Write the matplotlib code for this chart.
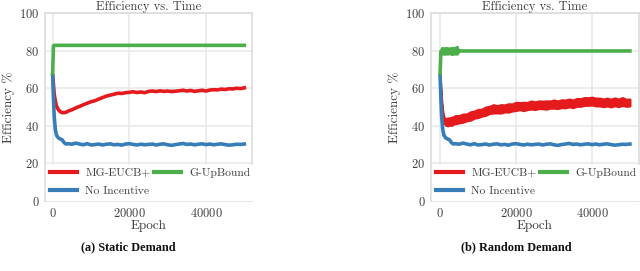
import matplotlib
matplotlib.use("Agg")
import matplotlib.pyplot as plt
from matplotlib.lines import Line2D

# ---------------- data ----------------
epochs = [0, 200, 400, 700, 1000, 1500, 2000, 2500, 3000, 3500, 4000,
          5000, 6000, 7000, 8000, 9000, 10000, 11000, 12000, 13000, 14000,
          15000, 16000, 17000, 18000, 19000, 20000, 21000, 22000, 23000, 24000,
          25000, 26000, 27000, 28000, 29000, 30000, 31000, 32000, 33000, 34000,
          35000, 36000, 37000, 38000, 39000, 40000, 41000, 42000, 43000, 44000,
          45000, 46000, 47000, 48000, 49000, 50000]

static_mg_eucb = [67, 62, 57, 53, 50.5, 48.5, 47.5, 47, 47, 47.2, 47.8,
                  48.5, 49.5, 50.3, 51.2, 52, 52.8, 53.3, 54.2, 55, 55.8,
                  56.3, 56.8, 57.3, 57.2, 57.6, 57.8, 58.1, 57.7, 58, 57.6,
                  58.3, 58.5, 58.2, 58.6, 58.3, 58.5, 58.2, 58.4, 58.6, 58.9,
                  58.5, 58.8, 58.3, 58.6, 58.9, 58.5, 59, 59.2, 59.1, 59.5,
                  59.3, 59.7, 59.6, 60, 59.8, 60.2]

static_upbound = [68, 82.5, 82.8, 82.8, 82.8, 82.8, 82.8, 82.8, 82.8, 82.8, 82.8,
                  82.8, 82.8, 82.8, 82.8, 82.8, 82.8, 82.8, 82.8, 82.8, 82.8,
                  82.8, 82.8, 82.8, 82.8, 82.8, 82.8, 82.8, 82.8, 82.8, 82.8,
                  82.8, 82.8, 82.8, 82.8, 82.8, 82.8, 82.8, 82.8, 82.8, 82.8,
                  82.8, 82.8, 82.8, 82.8, 82.8, 82.8, 82.8, 82.8, 82.8, 82.8,
                  82.8, 82.8, 82.8, 82.8, 82.8, 82.8]

no_incentive = [67, 55, 45, 38, 35, 33.5, 33, 32.5, 31, 30.3, 30.5,
                30.2, 30.8, 30.3, 29.9, 30.5, 29.8, 30, 30.3, 29.8, 30.2,
                30.4, 29.9, 30.1, 29.7, 30.3, 30.5, 30.1, 29.8, 30.2, 29.9,
                30.1, 30.3, 29.8, 30.2, 30.4, 29.9, 29.6, 30, 30.3, 30.6,
                30.1, 30.3, 29.9, 30.2, 30.4, 30, 30.3, 29.9, 30.2, 30.4,
                30, 29.7, 29.9, 30.2, 30.1, 30.3]

# random demand: noisy bands given as lower / upper envelopes
random_mg_low = [64, 56.5, 50.5, 44.5, 41.5, 40.3, 40, 40.4, 40.2, 40.9, 41.1,
                 41.6, 41.9, 42.7, 43, 44.1, 44.4, 45.2, 45.6, 46.6, 46.8,
                 46.9, 46.8, 47.4, 47.3, 47.9, 48.2, 48.6, 48.1, 48.7, 48.9,
                 48.7, 49.2, 49.1, 48.9, 49.4, 49.4, 49.2, 49.7, 49.6, 50.1,
                 49.7, 50.4, 50.4, 50.9, 50.9, 51.1, 50.6, 50.6, 50.2, 50.6,
                 50.1, 50.7, 50.2, 50.9, 50.4, 50.6]
random_mg_high = [66, 59.5, 53.5, 47.5, 44.6, 43.6, 44.2, 44.1, 44.6, 44.7, 45.4,
                  45.4, 46.2, 46.3, 47.4, 47.8, 48.7, 48.8, 50, 50.3, 51.2,
                  50.7, 51.2, 51.1, 51.7, 51.6, 52.5, 52.3, 52.5, 52.4, 53.2,
                  52.7, 53.2, 53.1, 53.2, 53.2, 53.7, 53.2, 53.8, 53.7, 54.2,
                  53.7, 54.5, 54.4, 55, 54.9, 55.2, 54.7, 54.7, 54.2, 54.7,
                  54.1, 54.8, 54.2, 55, 54.1, 54.2]

random_upbound = [68, 79.5, 79.8, 79.8, 79.8, 79.8, 79.8, 79.8, 79.8, 79.8, 79.8,
                  79.8, 79.8, 79.8, 79.8, 79.8, 79.8, 79.8, 79.8, 79.8, 79.8,
                  79.8, 79.8, 79.8, 79.8, 79.8, 79.8, 79.8, 79.8, 79.8, 79.8,
                  79.8, 79.8, 79.8, 79.8, 79.8, 79.8, 79.8, 79.8, 79.8, 79.8,
                  79.8, 79.8, 79.8, 79.8, 79.8, 79.8, 79.8, 79.8, 79.8, 79.8,
                  79.8, 79.8, 79.8, 79.8, 79.8, 79.8]
upbound_band_epochs = [150, 300, 600, 1000, 1500, 2000, 2500, 3000, 3500, 4000, 4500, 5000]
random_upbound_low = [77.5, 78, 78.2, 77.9, 78.1, 78, 78.3, 77.8, 78, 78.1, 78, 79.5]
random_upbound_high = [80.5, 81.6, 81.8, 81.5, 81.8, 81.6, 81.5, 81.8, 81.7, 82, 82.4, 80]

series_labels = ["MG-EUCB+", "No Incentive", "G-UpBound"]
panel_captions = ["(a) Static Demand", "(b) Random Demand"]
yticks = [0, 20, 40, 60, 80, 100]
xticks = [0, 20000, 40000]

# ---------------- style ----------------
plt.rcParams["font.family"] = ["cmr10", "DejaVu Serif"]
plt.rcParams["axes.formatter.use_mathtext"] = True
plt.rcParams["mathtext.fontset"] = "cm"

RED, BLUE, GREEN = "#e41a1c", "#377eb8", "#4daf4a"
SPINE = "#dcdcdc"
GRID = "#e8e8e8"
TXT = "#404040"
LW = 2.6

fig = plt.figure(figsize=(6.4, 2.71), dpi=100)

panels = [
    dict(rect=[45/640, 70/271, 207/640, 188/271], xlim=(-2000, 52000), cap_x=128/640),
    dict(rect=[431/640, 70/271, 208/640, 188/271], xlim=(-2400, 52400), cap_x=516/640),
]

axes = []
for p in panels:
    ax = fig.add_axes(p["rect"])
    axes.append(ax)

# static demand panel
ax = axes[0]
ax.plot(epochs, static_mg_eucb, color=RED, lw=LW, solid_joinstyle="round", zorder=3)
ax.plot(epochs, no_incentive, color=BLUE, lw=LW, solid_joinstyle="round", zorder=3)
ax.plot(epochs, static_upbound, color=GREEN, lw=LW, solid_joinstyle="round", zorder=3)

# random demand panel
ax = axes[1]
ax.fill_between(epochs, random_mg_low, random_mg_high, color=RED, lw=1.6,
                edgecolor=RED, zorder=3)
ax.plot(epochs, no_incentive, color=BLUE, lw=LW, solid_joinstyle="round", zorder=3)
ax.plot(epochs, random_upbound, color=GREEN, lw=LW, solid_joinstyle="round", zorder=3)
ax.fill_between(upbound_band_epochs, random_upbound_low, random_upbound_high,
                color=GREEN, lw=1.2, edgecolor=GREEN, zorder=3)

for ax, p, cap in zip(axes, panels, panel_captions):
    ax.set_facecolor("white")
    ax.set_xlim(*p["xlim"])
    ax.set_ylim(0, 100)
    ax.set_xticks(xticks)
    ax.set_yticks(yticks)
    ax.grid(True, color=GRID, lw=1.1, zorder=0)
    ax.set_axisbelow(True)
    for s in ax.spines.values():
        s.set_color(SPINE)
        s.set_linewidth(1.2)
    ax.tick_params(length=0, labelsize=9, labelcolor=TXT, pad=4)
    ax.set_title("Efficiency vs. Time", fontsize=9, color=TXT, pad=2.5)
    ax.set_xlabel("Epoch", fontsize=9.5, color=TXT, labelpad=0)
    ax.set_ylabel("Efficiency %", fontsize=9.5, color=TXT, labelpad=3)
    handles = [Line2D([], [], color=c, lw=3) for c in (RED, BLUE, GREEN)]
    leg = ax.legend(handles, series_labels, loc="lower left", ncol=2,
                    fontsize=8.3, frameon=True, facecolor="white", edgecolor="white",
                    framealpha=1.0, fancybox=False, handlelength=2.4,
                    handletextpad=0.7, columnspacing=0.26, labelspacing=0.7,
                    borderpad=0.3, borderaxespad=0.1)
    leg.set_zorder(5)
    for t in leg.get_texts():
        t.set_color(TXT)
    fig.text(p["cap_x"], 24/271, cap, ha="center", va="center",
             fontsize=8.8, fontweight="bold", family="Liberation Serif", color="#111111")

fig.savefig("out.png", dpi=100)
